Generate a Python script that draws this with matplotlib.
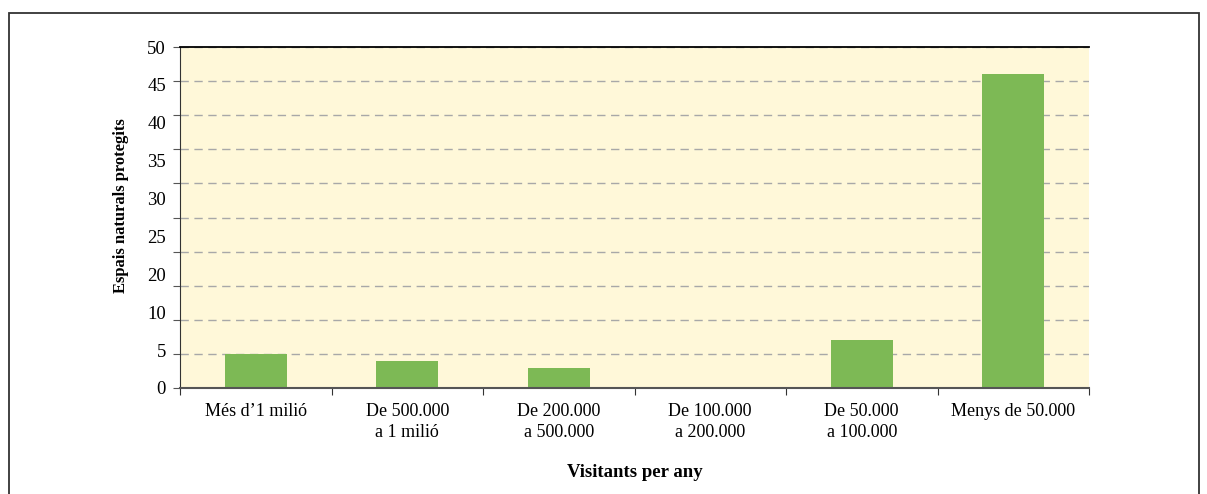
import matplotlib.pyplot as plt
from matplotlib.patches import Rectangle
import numpy as np

# data
categories = ["Més d\u20191 milió", "De 500.000\na 1 milió", "De 200.000\na 500.000",
              "De 100.000\na 200.000", "De 50.000\na 100.000", "Menys de 50.000"]
espais = [5, 4, 3, 0, 7, 46]
ytick_labels = ["0", "5", "10", "20", "25", "30", "35", "40", "45", "50"]

plt.rcParams['font.family'] = ['Liberation Serif', 'DejaVu Serif']

W, H = 1207, 494
fig = plt.figure(figsize=(W / 100, H / 100), dpi=100)
ax = fig.add_axes([180 / W, 1 - 388 / H, (1089 - 180) / W, (388 - 47) / H])
ax.set_facecolor('#FFF8D9')

x = np.arange(len(categories)) + 0.5
ax.bar(x, espais, width=0.41, color='#7DB955', zorder=3)

ax.set_xlim(0, len(categories))
ax.set_ylim(0, 50)
ax.xaxis.remove_overlapping_locs = False
ax.yaxis.remove_overlapping_locs = False

# gridlines at every 5
ax.set_yticks(np.arange(0, 51, 5))
ax.set_yticklabels([])
ax.yaxis.grid(True, color='#A8A8A8', linestyle=(0, (6, 4)), linewidth=1, zorder=1)
ax.tick_params(axis='y', which='major', direction='out', length=5, color='#555555')

# the y labels in the source are spread evenly on their own
ax.set_yticks(np.linspace(0, 50, len(ytick_labels)), minor=True)
ax.set_yticklabels(ytick_labels, minor=True, fontsize=13.5)
ax.tick_params(axis='y', which='minor', length=0, pad=10)

# x ticks at category boundaries, labels in the middle
ax.set_xticks(np.arange(0, len(categories) + 1))
ax.set_xticklabels([])
ax.tick_params(axis='x', which='major', direction='out', length=5, color='#333333')
ax.set_xticks(x, minor=True)
ax.set_xticklabels(categories, minor=True, fontsize=13, linespacing=1.3)
ax.tick_params(axis='x', which='minor', length=0, pad=11)

ax.spines['right'].set_visible(False)
ax.spines['top'].set_color('black')
ax.spines['top'].set_linewidth(1.3)
ax.spines['left'].set_color('#333333')
ax.spines['bottom'].set_color('#555555')
ax.spines['bottom'].set_linewidth(1.5)
ax.spines['bottom'].set_zorder(4)

ax.set_ylabel("Espais naturals protegits", fontsize=12, fontweight='bold', labelpad=0)
ax.yaxis.set_label_coords((129 - 180) / (1089 - 180), (388 - 206) / (388 - 47))
fig.text(635 / W, 1 - 472 / H, "Visitants per any", fontsize=13.5, fontweight='bold',
         ha='center', va='center')

# outer frame
fig.patches.append(Rectangle((9 / W, -0.1), (1199 - 9) / W, 1.1 - 13 / H,
                             transform=fig.transFigure, fill=False,
                             edgecolor='#333333', linewidth=1.3))

plt.savefig("out.png", dpi=100)
